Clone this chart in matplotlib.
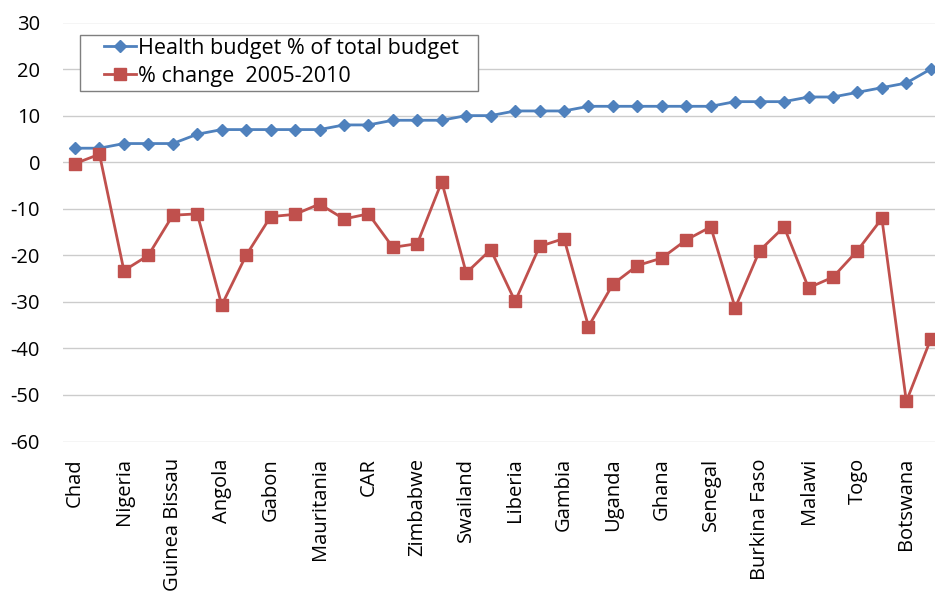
import matplotlib
matplotlib.use("Agg")
import matplotlib.pyplot as plt
from matplotlib.patches import Rectangle
import numpy as np

plt.rcParams["axes.unicode_minus"] = False

# Labelled countries (every second category is labelled on the axis)
tick_labels = ["Chad", "Nigeria", "Guinea Bissau", "Angola", "Gabon", "Mauritania",
               "CAR", "Zimbabwe", "Swailand", "Liberia", "Gambia", "Uganda",
               "Ghana", "Senegal", "Burkina Faso", "Malawi", "Togo", "Botswana"]

health_budget = [3, 3, 4, 4, 4, 6, 7, 7, 7, 7, 7, 8, 8, 9, 9, 9, 10, 10,
                 11, 11, 11, 12, 12, 12, 12, 12, 12, 13, 13, 13, 14, 14, 15, 16, 17, 20]

pct_change = [-0.3, 1.7, -23.3, -20.0, -11.4, -11.1, -30.7, -20.0, -11.7, -11.2,
              -9.0, -12.2, -11.1, -18.3, -17.5, -4.2, -23.8, -18.8, -29.9, -18.1,
              -16.4, -35.3, -26.2, -22.2, -20.6, -16.7, -13.9, -31.3, -19.0, -13.9,
              -27.0, -24.7, -19.0, -12.1, -51.4, -38.0]

series_names = ["Health budget % of total budget", "% change  2005-2010"]

W, H = 935, 592
fig = plt.figure(figsize=(W / 100, H / 100), dpi=100)
ax = fig.add_axes([62.8 / W, 150.5 / H, (943 - 62.8) / W, 419 / H])

font = "Open Sans"
x = np.arange(len(health_budget))
ax.plot(x, health_budget, color="#4F81BD", lw=2.0, marker="D", markersize=6.5,
        label=series_names[0], clip_on=False, zorder=3)
ax.plot(x, pct_change, color="#C0504D", lw=2.0, marker="s", markersize=8,
        label=series_names[1], clip_on=False, zorder=3)

ax.set_xlim(-0.5, len(x) - 0.5)
ax.set_ylim(-60, 30)
ax.set_yticks(np.arange(-60, 31, 10))
ax.set_xticks(x[::2])
ax.set_xticklabels(tick_labels, rotation=90, fontfamily=font, fontsize=14.5)
for lab in ax.get_yticklabels():
    lab.set_fontfamily(font)
    lab.set_fontsize(14.5)
ax.tick_params(axis="both", length=0, colors="#000000")
ax.tick_params(axis="y", pad=16.4)
ax.tick_params(axis="x", pad=12)
ax.grid(axis="y", color="#CCCCCC", lw=1)
ax.set_axisbelow(True)
for s in ax.spines.values():
    s.set_visible(False)

# legend frame drawn as a rectangle in figure pixels
frame = Rectangle((80 / W, 1 - 91 / H), 398 / W, 56 / H,
                  transform=fig.transFigure, facecolor="white",
                  edgecolor="#7F7F7F", lw=1, zorder=4, clip_on=False)
ax.add_patch(frame)
leg = ax.legend(loc="upper left", bbox_to_anchor=(104 / W, 1 - 38 / H),
                bbox_transform=fig.transFigure, borderaxespad=0, borderpad=0,
                frameon=False, prop={"family": font, "size": 15.5},
                handlelength=1.5, handletextpad=0.1, labelspacing=0.32)
leg.set_zorder(5)

fig.savefig("out.png", dpi=100)
